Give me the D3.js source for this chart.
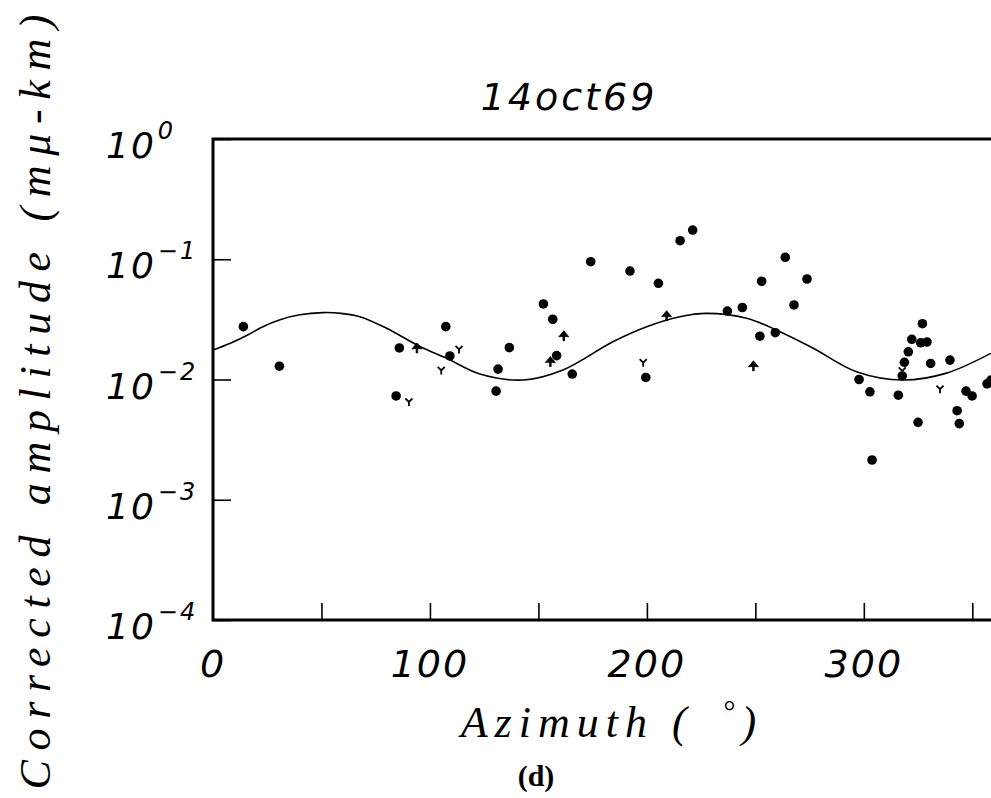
<!DOCTYPE html>
<html>
<head>
<meta charset="utf-8">
<script src="https://cdn.jsdelivr.net/npm/d3@7"></script>
<style>
  html, body { margin: 0; padding: 0; background: #fff; }
  svg { display: block; }
</style>
</head>
<body>
<div id="chart"></div>
<script>
// values
const title = '14oct69';

// filled circles: azimuth (deg), corrected amplitude
const circleAz  = [14.0, 30.6, 85.9, 84.4, 107.3, 109.2, 136.6, 131.4, 130.5, 152.3, 156.6, 158.4,
                   165.6, 174.1, 199.5, 192.2, 205.3, 215.3, 221.1, 237.1, 244.0, 252.1, 259.2, 252.9,
                   263.8, 267.8, 273.8, 297.8, 302.8, 303.8, 315.9, 317.7, 318.7, 320.5, 322.1, 327.0,
                   326.2, 329.1, 325.0, 330.8, 339.7, 343.0, 344.0, 347.1, 349.9, 356.8, 358.6];
const circleAmp = [0.0275, 0.0129, 0.0183, 0.0073, 0.0275, 0.0157, 0.0184, 0.0122, 0.0080, 0.0425, 0.0317, 0.0158,
                   0.0111, 0.0954, 0.0104, 0.0798, 0.0631, 0.1426, 0.175, 0.0371, 0.0397, 0.0229, 0.0245, 0.0656,
                   0.1038, 0.0417, 0.0685, 0.0100, 0.0079, 0.00214, 0.0074, 0.0107, 0.0139, 0.0170, 0.0216, 0.0291,
                   0.0202, 0.0205, 0.0044, 0.0136, 0.0145, 0.0055, 0.0043, 0.0080, 0.0073, 0.0092, 0.0099];

// "Y" markers
const yMarkAz  = [90.3, 105.2, 113.4, 198.3, 335.1, 317.7];
const yMarkAmp = [0.0065, 0.0119, 0.0178, 0.0138, 0.0083, 0.0118];

// arrow-head markers
const arrowAz  = [94.0, 155.5, 161.7, 209.1, 249.1];
const arrowAmp = [0.0183, 0.0141, 0.0231, 0.0339, 0.0130];

// fitted curve
const fitAz  = [0, 8, 15.5, 23, 30.9, 40, 50.7, 59, 67.7, 80, 95.4, 107.7, 123, 143, 161.3, 184.3, 199.9, 215.2,
                227.5, 246, 261.3, 276.5, 296.6, 318.1, 338.1, 358.5];
const fitAmp = [0.0176, 0.0200, 0.0232, 0.0275, 0.0314, 0.0345, 0.0360, 0.0355, 0.0333, 0.0267, 0.0188, 0.0150,
                0.0111, 0.0099, 0.0120, 0.0206, 0.0275, 0.0333, 0.0355, 0.0323, 0.0250, 0.0183, 0.0116, 0.0099,
                0.0113, 0.0165];

const xLabelTicks = [0, 100, 200, 300];
const xMinorTicks = [50, 100, 150, 200, 250, 300, 350];
const yExponents  = [0, -1, -2, -3, -4];

const width = 991, height = 798;
const svg = d3.select('#chart').append('svg')
    .attr('width', width).attr('height', height);

const x = d3.scaleLinear().domain([0, 360]).range([213, 994]);
const y = d3.scaleLog().domain([1e-4, 1]).range([620, 139]);

const numFont = '"DejaVu Sans", sans-serif';
const titleFont = '"Liberation Serif", serif';

// ticks (inward)
const yAxis = svg.append('g').attr('transform', `translate(${x(0)},0)`)
    .call(d3.axisLeft(y).tickValues(yExponents.map(e => Math.pow(10, e))).tickSize(-18).tickSizeOuter(0).tickFormat(''));
yAxis.select('.domain').remove();
yAxis.selectAll('.tick line').attr('stroke', '#000').attr('stroke-width', 1.6);

const xAxis = svg.append('g').attr('transform', `translate(0,${y(1e-4)})`)
    .call(d3.axisBottom(x).tickValues(xMinorTicks).tickSize(-17).tickSizeOuter(0).tickFormat(''));
xAxis.select('.domain').remove();
xAxis.selectAll('.tick line').attr('stroke', '#000').attr('stroke-width', 1.6);

// frame
svg.append('path')
    .attr('d', `M${x(360)},${y(1)} L${x(0)},${y(1)} L${x(0)},${y(1e-4)} L${x(360)},${y(1e-4)}`)
    .attr('fill', 'none').attr('stroke', '#000').attr('stroke-width', 3);
svg.append('line')
    .attr('x1', x(360)).attr('x2', x(360)).attr('y1', y(1)).attr('y2', y(1e-4))
    .attr('stroke', '#000').attr('stroke-width', 3);

// y tick labels 10^n
yExponents.forEach(e => {
    const t = svg.append('text')
        .attr('x', 106).attr('y', y(Math.pow(10, e)) + 19)
        .attr('font-family', numFont).attr('font-style', 'italic').attr('font-weight', 300)
        .attr('font-size', 36).attr('letter-spacing', 2).attr('fill', '#000');
    t.append('tspan').text('10');
    t.append('tspan').attr('dx', 2).attr('dy', -19).attr('font-size', 24)
        .text(e === 0 ? '0' : '\u2212' + Math.abs(e));
});

// x tick labels
svg.selectAll('.xlab').data(xLabelTicks).join('text')
    .attr('class', 'xlab')
    .attr('x', d => x(d)).attr('y', 677)
    .attr('text-anchor', 'middle')
    .attr('font-family', numFont).attr('font-style', 'italic').attr('font-weight', 300)
    .attr('font-size', 38).attr('letter-spacing', 2).attr('fill', '#000')
    .text(d => d);

// title
svg.append('text')
    .attr('x', 569).attr('y', 110).attr('text-anchor', 'middle')
    .attr('font-family', numFont).attr('font-style', 'italic').attr('font-weight', 300)
    .attr('font-size', 38).attr('letter-spacing', 3).attr('fill', '#000')
    .text(title);

// x axis title
const xt = svg.append('text')
    .attr('x', 612).attr('y', 737).attr('text-anchor', 'middle')
    .attr('font-family', titleFont).attr('font-style', 'italic')
    .attr('font-size', 44).attr('letter-spacing', 7).attr('fill', '#000');
xt.append('tspan').text('Azimuth (\u2002');
xt.append('tspan').attr('dy', -16).attr('font-size', 30).text('\u00b0');
xt.append('tspan').attr('dy', 16).text(')');

// y axis title
svg.append('text')
    .attr('transform', 'translate(50,402) rotate(-90)')
    .attr('text-anchor', 'middle')
    .attr('font-family', titleFont).attr('font-style', 'italic')
    .attr('font-size', 44).attr('fill', '#000')
    .attr('textLength', 775).attr('lengthAdjust', 'spacing')
    .text('Corrected amplitude (m\u03bc-km)');

// caption
svg.append('text')
    .attr('x', 536).attr('y', 786).attr('text-anchor', 'middle')
    .attr('font-family', '"Liberation Serif", serif').attr('font-weight', 'bold')
    .attr('font-size', 30).attr('fill', '#000')
    .text('(d)');

// fitted curve
const fitData = fitAz.map((a, i) => [a, fitAmp[i]]);
svg.append('path')
    .datum(fitData)
    .attr('fill', 'none').attr('stroke', '#000').attr('stroke-width', 1.6)
    .attr('d', d3.line().x(d => x(d[0])).y(d => y(d[1])).curve(d3.curveCatmullRom));

// circles
const circles = circleAz.map((a, i) => [a, circleAmp[i]]);
svg.append('g').selectAll('circle').data(circles).join('circle')
    .attr('cx', d => x(d[0])).attr('cy', d => y(d[1])).attr('r', 4.8)
    .attr('fill', '#000');

// Y markers
const yMarks = yMarkAz.map((a, i) => [a, yMarkAmp[i]]);
svg.append('g').selectAll('path').data(yMarks).join('path')
    .attr('transform', d => `translate(${x(d[0])},${y(d[1])})`)
    .attr('d', 'M-3.5,-3.5 L0,0 L3.5,-3.5 M0,0 L0,4')
    .attr('fill', 'none').attr('stroke', '#000').attr('stroke-width', 1.8);

// arrow-head markers
const arrows = arrowAz.map((a, i) => [a, arrowAmp[i]]);
svg.append('g').selectAll('path').data(arrows).join('path')
    .attr('transform', d => `translate(${x(d[0])},${y(d[1])})`)
    .attr('d', 'M0,-5 L5,1 Q0,0 -5,1 Z M-0.8,0 L0.8,0 L0.8,5 L-0.8,5 Z')
    .attr('fill', '#000').attr('stroke', '#000').attr('stroke-width', 0.8);
</script>
</body>
</html>
